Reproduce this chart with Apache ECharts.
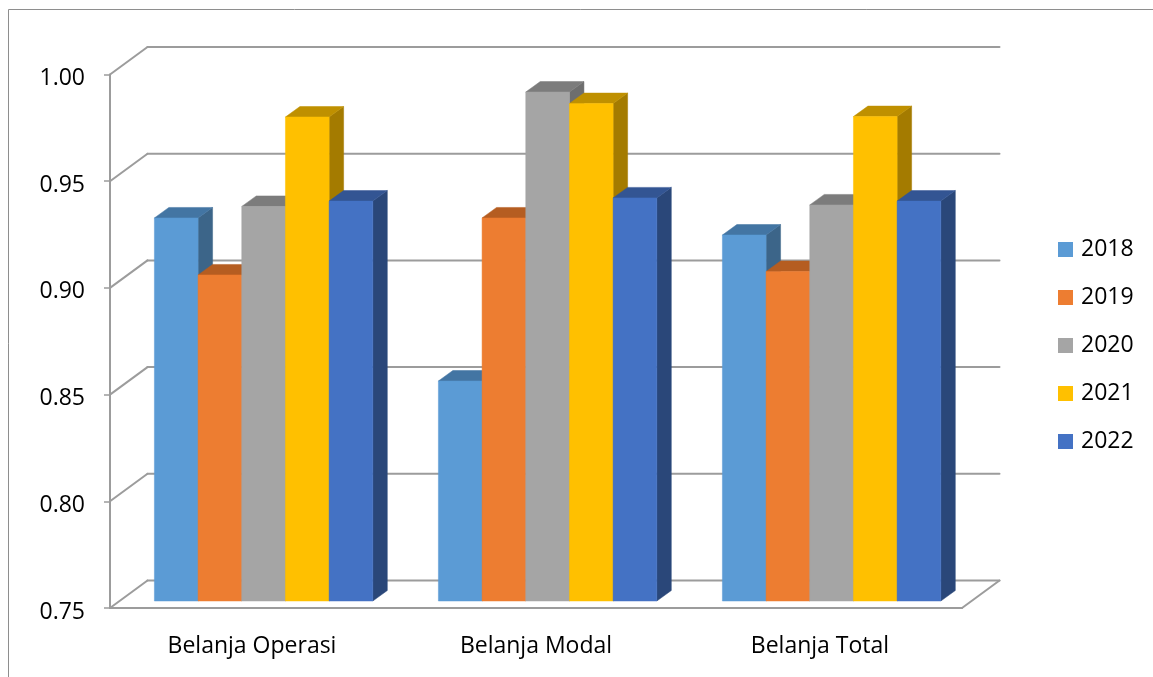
<!DOCTYPE html>
<html>
<head>
<meta charset="utf-8">
<style>html,body{margin:0;padding:0;background:#fff}#chart{width:1153px;height:677px}</style>
<script src="https://cdn.jsdelivr.net/npm/echarts@6/dist/echarts.min.js"></script>
</head>
<body>
<div id="chart"></div>
<script>
// Belanja ratios per category and year
const categories = ['Belanja Operasi', 'Belanja Modal', 'Belanja Total'];
const years = ['2018', '2019', '2020', '2021', '2022'];
const values2018 = [0.9295, 0.8531, 0.9215];
const values2019 = [0.9028, 0.9295, 0.9044];
const values2020 = [0.9349, 0.9885, 0.9356];
const values2021 = [0.9768, 0.9831, 0.9770];
const values2022 = [0.9374, 0.9389, 0.9374];
const yTicks = [0.75, 0.80, 0.85, 0.90, 0.95, 1.00];
const seriesValues = [values2018, values2019, values2020, values2021, values2022];

// Front, top and side face colours for each year
const frontColors = ['#5B9BD5', '#ED7D31', '#A5A5A5', '#FFC000', '#4472C4'];
const topColors = ['#4375A3', '#B55D21', '#7C7C7C', '#BF9000', '#335593'];
const sideColors = ['#3C6589', '#A9551D', '#6E6E6E', '#A47B00', '#2A4779'];

// Oblique projection of the box
const WALL_DX = 37.5, WALL_DY = -27.5;   // back wall relative to the front plane
const BAR_DX = 11.6, BAR_DY = -7;        // bar front relative to the front plane
const BAR_DEPTH_X = 14.5, BAR_DEPTH_Y = -10.5;
const BAR_SHARE = 0.1538;                // bar width as a share of a category band
const GRID_COLOR = '#9C9C9C';
const FONT = 'Open Sans';

function poly(points, fill) {
  return { type: 'polygon', shape: { points }, style: { fill, stroke: fill, lineWidth: 0.5 } };
}

// Gridline on the back wall with its diagonal run to the front axis
function renderWall(params, api) {
  const cs = params.coordSys;
  const y = api.coord([0, api.value(1)])[1];
  const line = (x1, y1, x2, y2) => ({
    type: 'line',
    shape: { x1, y1, x2, y2 },
    style: { stroke: GRID_COLOR, lineWidth: 2, lineCap: 'round' }
  });
  const children = [
    line(cs.x, y, cs.x + WALL_DX, y + WALL_DY),
    line(cs.x + WALL_DX, y + WALL_DY, cs.x + cs.width + WALL_DX, y + WALL_DY)
  ];
  if (api.value(1) === yTicks[0]) {
    children.push(line(cs.x + cs.width, y, cs.x + cs.width + WALL_DX, y + WALL_DY));
  }
  return { type: 'group', children };
}

// Box bar: side and top faces behind the front face
function renderBar(seriesIndex) {
  return function (params, api) {
    const band = api.size([1, 0])[0];
    const w = band * BAR_SHARE;
    const top = api.coord([api.value(0), api.value(1)]);
    const base = api.coord([api.value(0), yTicks[0]]);
    const x0 = top[0] + BAR_DX + (seriesIndex - years.length / 2) * w;
    const x1 = x0 + w;
    const yT = top[1] + BAR_DY;
    const yB = base[1] + BAR_DY;
    const dx = BAR_DEPTH_X, dy = BAR_DEPTH_Y;
    return {
      type: 'group',
      children: [
        poly([[x1, yT], [x1 + dx, yT + dy], [x1 + dx, yB + dy], [x1, yB]], sideColors[seriesIndex]),
        poly([[x0, yT], [x0 + dx, yT + dy], [x1 + dx, yT + dy], [x1, yT]], topColors[seriesIndex]),
        poly([[x0, yT], [x1, yT], [x1, yB], [x0, yB]], frontColors[seriesIndex])
      ]
    };
  };
}

const chart = echarts.init(document.getElementById('chart'));
chart.setOption({
  animation: false,
  backgroundColor: '#fff',
  textStyle: { fontFamily: FONT, color: '#000' },
  graphic: [
    {
      type: 'polyline',
      silent: true,
      shape: { points: [[8.5, 677], [8.5, 9.5], [1153, 9.5]] },
      style: { stroke: '#8E8E8E', lineWidth: 1, fill: 'none' }
    }
  ],
  grid: { left: 110, top: 74.5, width: 852, height: 533.5, containLabel: false },
  legend: {
    data: years,
    orient: 'vertical',
    left: 1053,
    top: 233,
    itemWidth: 15,
    itemHeight: 15,
    itemGap: 25,
    icon: 'rect',
    selectedMode: false,
    itemStyle: { borderWidth: 0 },
    textStyle: { fontFamily: FONT, fontSize: 23, color: '#000', padding: [4, 0, 0, 3] }
  },
  xAxis: {
    type: 'category',
    data: categories,
    boundaryGap: true,
    axisLine: { lineStyle: { color: GRID_COLOR, width: 2 } },
    axisTick: { alignWithLabel: false, length: 9, lineStyle: { color: GRID_COLOR, width: 1.5 } },
    axisLabel: { color: '#000', fontFamily: FONT, fontSize: 23, margin: 27 },
    splitLine: { show: false }
  },
  yAxis: {
    type: 'value',
    min: 0.75,
    max: 1.0,
    interval: 0.05,
    axisLine: { show: true, lineStyle: { color: GRID_COLOR, width: 2 } },
    axisTick: { show: true, length: 6, lineStyle: { color: GRID_COLOR, width: 1.5 } },
    axisLabel: {
      color: '#000',
      fontFamily: FONT,
      fontSize: 23,
      margin: 25,
      formatter: v => '{n|' + v.toFixed(2) + '}',
      rich: { n: { fontFamily: FONT, fontSize: 23, color: '#000', padding: [8, 0, 0, 0] } }
    },
    splitLine: { show: false }
  },
  series: [
    {
      name: 'wall',
      type: 'custom',
      silent: true,
      clip: false,
      z: 1,
      renderItem: renderWall,
      encode: { x: 0, y: 1 },
      data: yTicks.map(t => [0, t])
    }
  ].concat(years.map((year, i) => ({
    name: year,
    type: 'custom',
    clip: false,
    z: 2 + i,
    itemStyle: { color: frontColors[i] },
    renderItem: renderBar(i),
    encode: { x: 0, y: 1 },
    data: seriesValues[i].map((v, c) => [c, v])
  })))
});
</script>
</body>
</html>
